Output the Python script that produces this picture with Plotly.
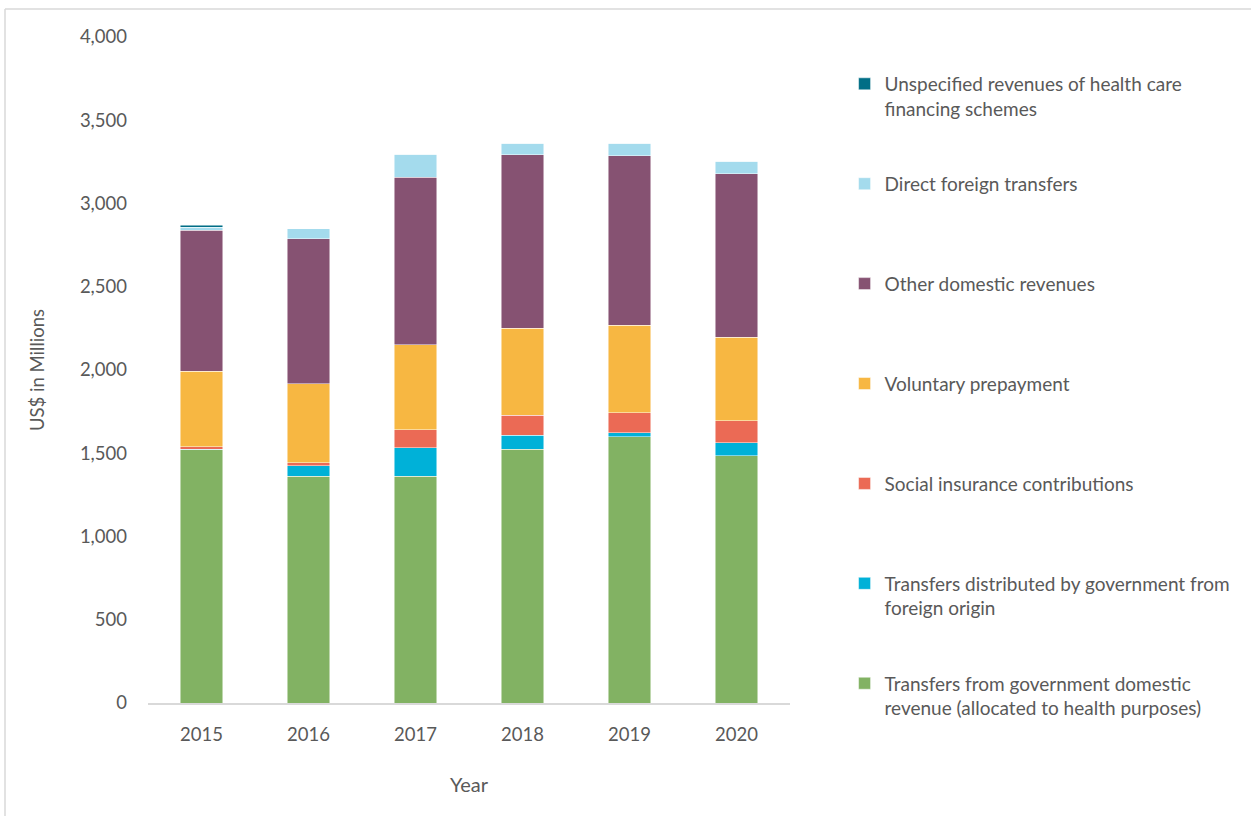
import plotly.graph_objects as go

years = ["2015", "2016", "2017", "2018", "2019", "2020"]

gov_domestic = [1520, 1363, 1363, 1525, 1598, 1485]
gov_foreign = [4, 62, 169, 82, 26, 79]
social_insurance = [15, 18, 110, 122, 120, 130]
voluntary = [455, 473, 511, 523, 524, 502]
other_domestic = [846, 871, 1004, 1041, 1019, 983]
direct_foreign = [18, 60, 140, 68, 74, 74]
unspecified = [12, 0, 0, 0, 0, 0]

series = [
    ("Transfers from government domestic<br>revenue (allocated to health purposes)", gov_domestic, "#82B263"),
    ("Transfers distributed by government from<br>foreign origin", gov_foreign, "#00B1D8"),
    ("Social insurance contributions<br>&nbsp;", social_insurance, "#EB6A55"),
    ("Voluntary prepayment<br>&nbsp;", voluntary, "#F7B742"),
    ("Other domestic revenues<br>&nbsp;", other_domestic, "#865272"),
    ("Direct foreign transfers<br>&nbsp;", direct_foreign, "#A4DBED"),
    ("Unspecified revenues of health care<br>financing schemes", unspecified, "#016E86"),
]

FONT = "Lato"
GRAY = "#595959"

fig = go.Figure()
n = len(series)
for i, (name, vals, col) in enumerate(series):
    fig.add_trace(go.Bar(
        x=years, y=vals, name=name, legendgroup=f"g{i}", legendrank=n - i,
        marker=dict(color=col, line=dict(color="rgba(255,255,255,0.6)", width=0.8)),
    ))

fig.update_layout(
    barmode="stack",
    bargap=0.6,
    width=1251, height=816,
    margin=dict(l=148, r=461, t=37, b=113),
    paper_bgcolor="white", plot_bgcolor="white",
    font=dict(family=FONT, size=18, color=GRAY),
    legend=dict(
        x=1.085, xanchor="left", y=0.958, yanchor="top",
        traceorder="grouped", tracegroupgap=47.5,
        valign="top",
        font=dict(family=FONT, size=19, color=GRAY),
    ),
    xaxis=dict(
        title=dict(text="Year", standoff=34, font=dict(size=20, color=GRAY)),
        showline=True, linecolor="#d9d9d9", linewidth=1.5,
        ticks="", ticklabelstandoff=14,
        tickfont=dict(size=18.5, color=GRAY),
    ),
    yaxis=dict(
        title=dict(text="US$ in Millions", standoff=30, font=dict(size=18.5, color=GRAY)),
        range=[0, 4000], dtick=500, tickformat=",",
        showgrid=False, zeroline=False, showline=False,
        ticklabelstandoff=20,
        tickfont=dict(size=18.5, color=GRAY),
    ),
    shapes=[
        dict(type="line", xref="paper", yref="paper",
             x0=(5 - 148) / 642, x1=(5 - 148) / 642, y0=(703 - 9) / 666, y1=-0.2,
             line=dict(color="#d9d9d9", width=1.5)),
        dict(type="line", xref="paper", yref="paper",
             x0=(5 - 148) / 642, x1=1.8, y0=(703 - 9) / 666, y1=(703 - 9) / 666,
             line=dict(color="#d9d9d9", width=1.5)),
    ],
)

fig.write_html("out.html")
